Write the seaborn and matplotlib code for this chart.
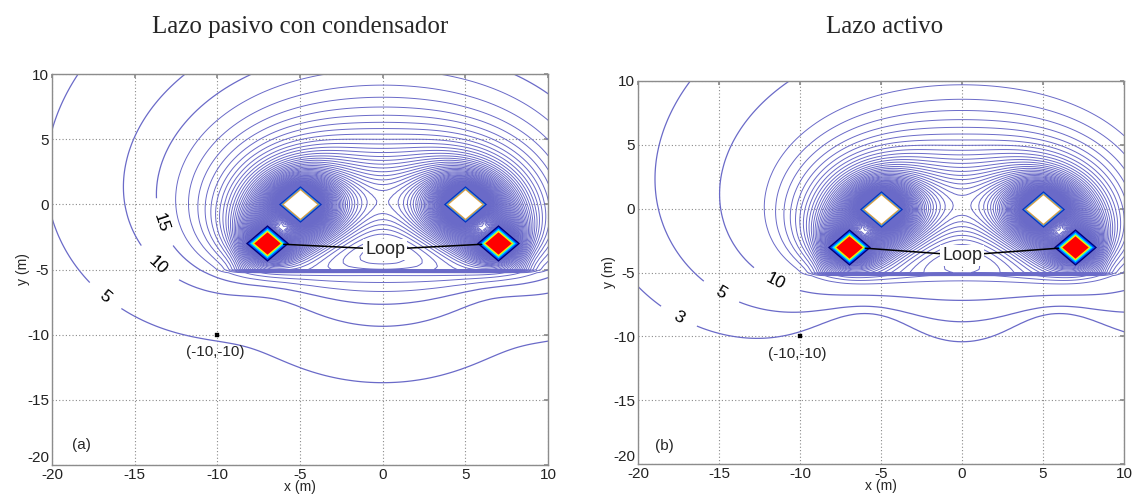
import numpy as np
import matplotlib
matplotlib.use("Agg")
import matplotlib.pyplot as plt
import seaborn as sns
import pandas as pd

# ---------------- data ----------------
titles = ["Lazo pasivo con condensador", "Lazo activo"]
panel_tags = ["(a)", "(b)"]
x_ticks = [-20, -15, -10, -5, 0, 5, 10]
y_ticks = [-20, -15, -10, -5, 0, 5, 10]

# conductor positions (m)
phase_x = [-5.0, 5.0]
phase_y = [0.0, 0.0]
phase_current = [1.0, -1.0]
loop_x = [-7.0, 7.0]
loop_y = [-3.0, -3.0]
loop_sign = [1.0, -1.0]
probe_x = [-10.0]
probe_y = [-10.0]

# per panel (passive with capacitor, active): loop current ratio (re, im) and field scale
loop_ratio_re = [-0.45, -0.50]
loop_ratio_im = [0.10, 0.0]
field_scale = [414.0, 395.0]
band_gain = [1.7, 1.6]

# contour levels per panel
low_levels = [[5, 10, 15], [3, 5, 10]]
level_step = 5
level_top = 700
label_levels = [[5, 10, 15], [3, 5, 10]]
label_spots = [[(-16.9, -7.2), (-13.4, -4.4), (-13.3, -1.4)],
               [(-17.7, -8.9), (-14.9, -6.6), (-11.5, -5.7)]]
loop_text_xy = [(0.15, -3.45), (0.0, -3.65)]
probe_text_xy = [(-10.1, -11.3), (-10.2, -11.4)]
tag_xy = [(-18.2, -18.5), (-18.4, -18.6)]

line_color = "#6a6ac8"

# ---------------- figure ----------------
sns.set_theme(style="white")
plt.rcParams["font.family"] = ["Liberation Sans", "DejaVu Sans"]
plt.rcParams["axes.unicode_minus"] = False

fig = plt.figure(figsize=(11.32, 4.98), dpi=100)
axes_rects = [[52 / 1132, 33 / 498, 496 / 1132, 391 / 498],
              [638 / 1132, 34 / 498, 486 / 1132, 383 / 498]]
title_x = [300 / 1132, 885 / 1132]

gx = np.arange(-21.0, 12.01, 0.25)
gy = np.arange(-21.0, 11.01, 0.25)
X, Y = np.meshgrid(gx, gy)


def sig(z):
    return 1.0 / (1.0 + np.exp(-z))


def field(i):
    xs = phase_x + loop_x
    ys = phase_y + loop_y
    ratio = complex(loop_ratio_re[i], loop_ratio_im[i])
    cur = [complex(c) for c in phase_current] + [ratio * s for s in loop_sign]
    bx = np.zeros_like(X, dtype=complex)
    by = np.zeros_like(X, dtype=complex)
    for sx, sy, c in zip(xs, ys, cur):
        dx = X - sx
        dy = Y - sy
        r2 = dx ** 2 + dy ** 2 + 0.05
        bx += c * (-dy) / r2
        by += c * dx / r2
    f = field_scale[i] * np.sqrt(np.abs(bx) ** 2 + np.abs(by) ** 2)
    wx = sig(-(np.abs(X) - 8.7) / 0.4)
    boost = 1.0 + band_gain[i] * wx * np.exp(-(Y + 5.0) / 1.2) * (Y >= -5.0)
    return f * boost


red_layers = [("#00007a", 31), ("#0050ff", 28), ("#00e5ff", 25), ("#f5f000", 22), ("#ff0000", 19)]
white_layers = [("#0030c0", 31), ("#3f8fd8", 28.5), ("#e0a040", 26.5), ("#ffffff", 24)]
diamond = [(-1, 0), (0, 0.85), (1, 0), (0, -0.85), (-1, 0)]

for i in range(2):
    ax = fig.add_axes(axes_rects[i])
    F = field(i)
    levels_all = sorted(set(low_levels[i]) | set(range(20, level_top, level_step)))
    other = [l for l in levels_all if l not in label_levels[i]]
    ax.contour(X, Y, F, levels=other, colors=line_color, linewidths=0.7)
    cs = ax.contour(X, Y, F, levels=label_levels[i], colors=line_color, linewidths=0.9)
    ax.clabel(cs, fmt="%d", fontsize=12.5, colors="black", inline=True, inline_spacing=14,
              manual=label_spots[i])

    # conductors
    for col, sz in white_layers:
        ax.plot(phase_x, phase_y, linestyle="none", marker=diamond, markersize=sz,
                markerfacecolor=col, markeredgecolor="none", zorder=5)
    for col, sz in red_layers:
        ax.plot(loop_x, loop_y, linestyle="none", marker=diamond, markersize=sz,
                markerfacecolor=col, markeredgecolor="none", zorder=5)

    # loop annotation
    tx, ty = loop_text_xy[i]
    for lx, ly in zip(loop_x, loop_y):
        ax.annotate("", xy=(lx, ly), xytext=(tx, ty),
                    arrowprops=dict(arrowstyle="-", color="black", lw=1.1,
                                    shrinkA=0, shrinkB=12), zorder=6)
    ax.text(tx, ty, "Loop", fontsize=13, ha="center", va="center", zorder=7,
            bbox=dict(boxstyle="square,pad=0.1", fc="white", ec="none"))

    # probe point
    pdf = pd.DataFrame({"x": probe_x, "y": probe_y})
    sns.scatterplot(data=pdf, x="x", y="y", ax=ax, marker="s", s=9, color="black",
                    edgecolor="black", zorder=6, legend=False)
    ax.text(*probe_text_xy[i], "(-10,-10)", fontsize=11, ha="center", va="center")
    ax.text(*tag_xy[i], panel_tags[i], fontsize=11, ha="center", va="center")

    ax.set_xlim(-20, 10)
    ax.set_ylim(-20, 10)
    ax.set_xticks(x_ticks)
    ax.set_yticks(y_ticks)
    ax.grid(True, linestyle=(0, (1, 2)), color="#8a8a8a", linewidth=0.8)
    ax.set_axisbelow(True)
    for sp in ax.spines.values():
        sp.set_color("#8c8c8c")
        sp.set_linewidth(1.0)
    ax.tick_params(direction="in", length=3, color="#8c8c8c", labelsize=11, pad=2,
                   top=True, right=True, labelcolor="#222222")
    ylabs = ax.get_yticklabels()
    ylabs[0].set_va("bottom")
    ax.set_xlabel("x (m)", fontsize=10, labelpad=-1)
    ax.set_ylabel("y (m)", fontsize=10, labelpad=-2)
    fig.text(title_x[i], 0.945, titles[i], fontsize=18, ha="center", va="center",
             family=["Liberation Serif", "DejaVu Serif"])

fig.savefig("out.png", dpi=100)
